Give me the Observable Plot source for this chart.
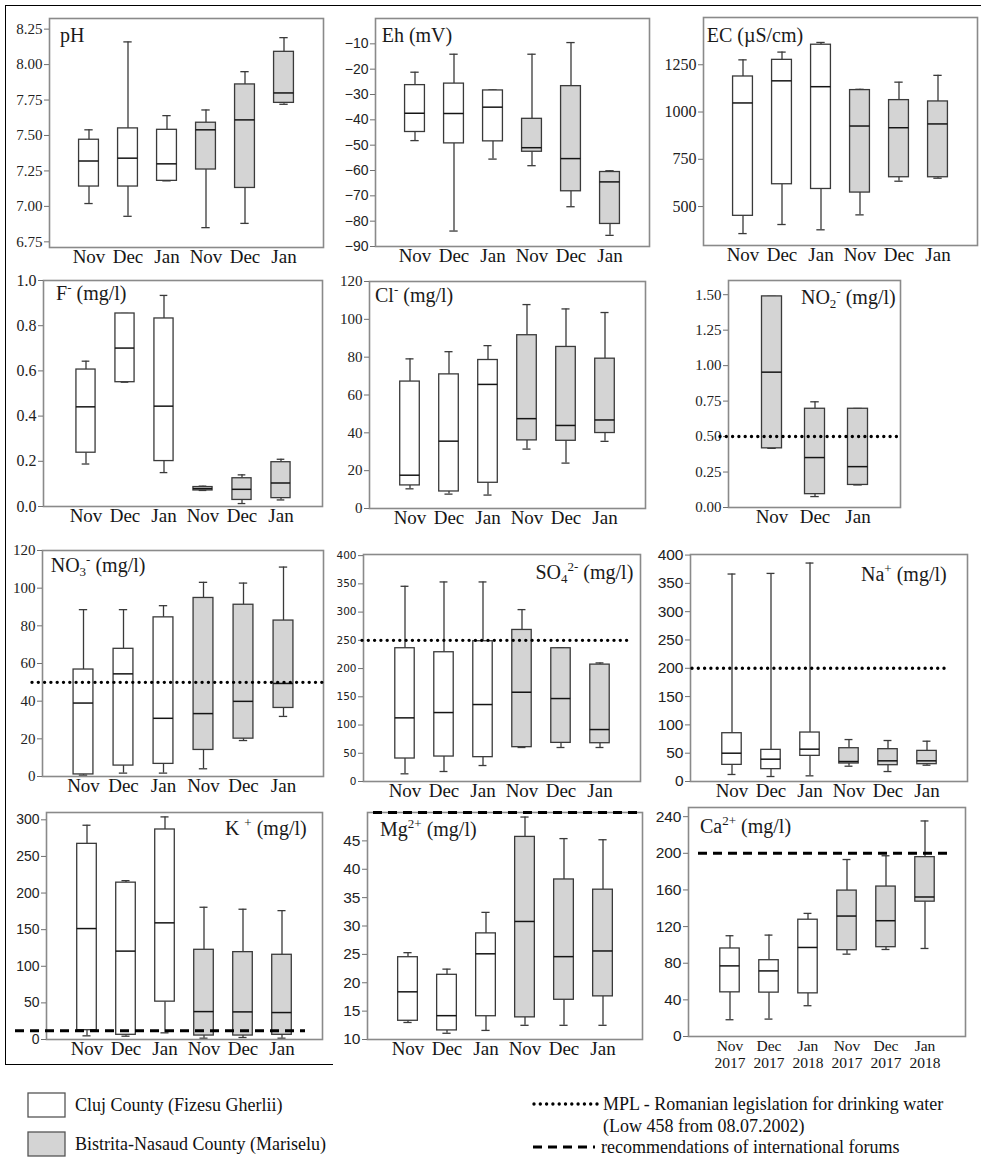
<!DOCTYPE html>
<html><head><meta charset="utf-8">
<script src="https://cdn.jsdelivr.net/npm/d3@7"></script>
<script src="https://cdn.jsdelivr.net/npm/@observablehq/plot@0.6"></script>
<style>
body{margin:0;background:#fff;}
#page{position:relative;width:981px;height:1160px;overflow:hidden;background:#fff;}
#border{position:absolute;left:5px;top:5px;width:1010px;height:1060px;border-top:1.5px solid #000;border-left:1.5px solid #000;box-sizing:border-box;}
#border2{position:absolute;left:5px;top:1063.5px;width:328px;height:1.5px;background:#000;}
</style></head><body><div id="page"><div id="border"></div><div id="border2"></div></div>
<script>
// categories
const months = ["Nov","Dec","Jan"];
const groups = ["Cluj","Bistrita"];
const caLabels = {Nov:"Nov\n2017", Dec:"Dec\n2017", Jan:"Jan\n2018"};
// five-number summaries [min, q1, median, q3, max]; rows: Cluj Nov, Dec, Jan, Bistrita Nov, Dec, Jan
const pH = [[7.02,7.14,7.32,7.47,7.54],[6.93,7.14,7.34,7.55,8.16],[7.18,7.18,7.30,7.54,7.64],
            [6.85,7.26,7.54,7.59,7.68],[6.88,7.13,7.61,7.86,7.95],[7.72,7.73,7.80,8.09,8.19]];
const Eh = [[-48.2,-44.8,-37.4,-26.3,-21.2],[-83.9,-49.3,-37.5,-25.7,-14.1],[-55.5,-48.5,-35.0,-28.4,-28.2],
            [-58.1,-52.6,-51.0,-39.6,-14.1],[-74.3,-68.2,-55.3,-26.7,-9.5],[-85.6,-81.1,-64.5,-60.6,-60.1]];
const EC = [[357,451,1048,1188,1276],[405,618,1165,1276,1317],[377,593,1134,1356,1368],
            [456,574,926,1116,1120],[634,655,917,1063,1158],[650,655,937,1056,1194]];
const F  = [[0.188,0.238,0.441,0.606,0.643],[0.55,0.55,0.701,0.854,0.854],[0.15,0.201,0.444,0.832,0.934],
            [0.071,0.071,0.079,0.086,0.09],[0.013,0.029,0.076,0.125,0.14],[0.029,0.037,0.104,0.196,0.209]];
const Cl = [[10.4,12.2,17.6,67.1,79.1],[7.6,9.0,35.6,70.9,82.9],[7.1,13.6,65.6,78.5,86.1],
            [31.4,36.0,47.5,91.6,107.8],[24.0,35.8,43.9,85.4,105.5],[35.5,39.9,46.8,79.2,103.6]];
const NO2 = [[0.417,0.417,0.954,1.488,1.488],[0.077,0.094,0.352,0.696,0.745],[0.159,0.159,0.288,0.696,0.698]];
const NO3 = [[0.7,1.1,39.0,56.8,88.6],[1.8,5.8,54.5,67.8,88.6],[1.8,6.7,30.9,84.5,90.7],
             [4.1,14.1,33.4,94.8,103.1],[19.1,20.1,39.9,91.2,102.7],[31.9,36.4,49.4,82.8,111.2]];
const SO4 = [[13.6,40.7,112.7,236,345.7],[17.7,44.2,122.1,228.9,353.4],[28.3,43.1,136.3,248.4,353.4],
             [60.2,60.8,158.1,268.4,304.4],[60.2,68.4,146.9,236,236.6],[60.2,67.8,92,207,210]];
const Na = [[12.4,29.4,50,85.3,366.5],[8.8,21.8,39.4,55.9,367.6],[10,45.3,57.1,86.5,385.9],
            [27,31.8,35.3,58.8,74.1],[17.6,28.8,36.5,57.1,72.4],[28.8,30.6,36.5,54.1,71.2]];
const K  = [[5.0,12.7,151.5,267.2,292.6],[4.5,6.4,120.7,214.2,216.9],[9.1,51.7,159.3,286.8,304],
            [1.8,5.4,38.1,122.5,180.6],[2.7,5.4,37.7,119.3,177.9],[1.8,6.4,36.8,115.7,176]];
const Mg = [[13.0,13.3,18.4,24.5,25.3],[11.1,11.6,14.2,21.4,22.4],[11.6,14.1,25.1,28.7,32.4],
            [12.5,13.9,30.8,45.7,49.2],[12.5,17.0,24.6,38.2,45.4],[12.5,17.6,25.6,36.4,45.2]];
const Ca = [[18.3,48.2,77.1,96.1,110],[19.0,47.9,71.6,83.3,110.7],[33.6,47.1,97.2,127.5,134.4],
            [89.9,94.2,131.5,159.3,193.2],[95,97.5,126.4,163.7,197.3],[96.1,147.2,152.3,195.8,235.3]];
// limits
const mplLimits = {NO2: 0.5, NO3: 50, SO4: 250, Na: 200};
const intlLimits = {K: 12, Mg: 50, Ca: 200};
// tick labels
const pHTicks = [6.75,7.00,7.25,7.50,7.75,8.00,8.25];
const EhTicks = [-90,-80,-70,-60,-50,-40,-30,-20,-10];
const ECTicks = [500,750,1000,1250];
const FTicks = [0,0.2,0.4,0.6,0.8,1.0];
const ClTicks = [0,20,40,60,80,100,120];
const NO2Ticks = [0,0.25,0.5,0.75,1.0,1.25,1.5];
const NO3Ticks = [0,20,40,60,80,100,120];
const SO4Ticks = [0,50,100,150,200,250,300,350,400];
const NaTicks = [0,50,100,150,200,250,300,350,400];
const KTicks = [0,50,100,150,200,250,300];
const MgTicks = [10,15,20,25,30,35,40,45];
const CaTicks = [0,40,80,120,160,200,240];

const SERIF = "'Liberation Serif', serif", SANS = "'Liberation Sans', sans-serif";
const f2 = d3.format(".2f"), f1 = d3.format(".1f"), f0 = d3.format("d");

const panels = [
  {values:pH, groups, frame:[49,18,323,247], domain:[6.71,8.325], ticks:pHTicks, fmt:f2, font:SERIF, fs:15,
   title:[["pH"]], tpos:[60,41.7,"start"]},
  {values:Eh, groups, frame:[375,18,649,246], domain:[-90,0], ticks:EhTicks, fmt:f0, font:SANS, fs:14,
   title:[["Eh (mV)"]], tpos:[381.7,41.7,"start"]},
  {values:EC, groups, frame:[703,17,977,245], domain:[294,1500], ticks:ECTicks, fmt:f0, font:SERIF, fs:16,
   title:[["EC (µS/cm)"]], tpos:[706.7,41.7,"start"]},
  {values:F, groups, frame:[43,280,322,506], domain:[0,1], ticks:FTicks, fmt:f1, font:SERIF, fs:16,
   title:[["F"],["-","sup"],[" (mg/l)"]], tpos:[56,300.3,"start"]},
  {values:Cl, groups, frame:[369,281,645,508], domain:[0,120], ticks:ClTicks, fmt:f0, font:SERIF, fs:15,
   title:[["Cl"],["-","sup"],[" (mg/l)"]], tpos:[375,302,"start"]},
  {values:NO2, groups:["Bistrita"], frame:[728,280,900,507], domain:[0,1.6], ticks:NO2Ticks, fmt:f2, font:SERIF, fs:15,
   title:[["NO"],["2","sub"],["-","sup"],[" (mg/l)"]], tpos:[895.7,304,"end"],
   ref:{value:mplLimits.NO2, kind:"dot", il:-8, ir:0}},
  {values:NO3, groups, frame:[42,550,323,776], domain:[0,120], ticks:NO3Ticks, fmt:f0, font:SERIF, fs:15,
   title:[["NO"],["3","sub"],["-","sup"],[" (mg/l)"]], tpos:[50.7,572.3,"start"],
   ref:{value:mplLimits.NO3, kind:"dot", il:-10, ir:-1}},
  {values:SO4, groups, frame:[363,554,640,781], domain:[0,402], ticks:SO4Ticks, fmt:f0, font:"'DejaVu Sans', sans-serif", fs:10.5,
   title:[["SO"],["4","sub"],["2-","sup"],[" (mg/l)"]], tpos:[633.3,578.7,"end"],
   ref:{value:mplLimits.SO4, kind:"dot", il:-1, ir:8}},
  {values:Na, groups, frame:[690,554,967,781], domain:[0,401], ticks:NaTicks, fmt:f0, font:SANS, fs:15.5,
   title:[["Na"],["+","sup"],[" (mg/l)"]], tpos:[946.7,580.7,"end"],
   ref:{value:mplLimits.Na, kind:"dot", il:2, ir:20}},
  {values:K, groups, frame:[46,812,322,1039], domain:[0,310], ticks:KTicks, fmt:f0, font:SANS, fs:14,
   title:[["K "],["+","sup"],[" (mg/l)"]], tpos:[306.7,835,"end"],
   ref:{value:intlLimits.K, kind:"dash", il:-31, ir:17}},
  {values:Mg, groups, frame:[367,812,642,1039], domain:[10,50], ticks:MgTicks, fmt:f0, font:SANS, fs:15.5,
   title:[["Mg"],["2+","sup"],[" (mg/l)"]], tpos:[380,836,"start"],
   ref:{value:intlLimits.Mg, kind:"dash", il:6, ir:0}},
  {values:Ca, groups, frame:[688,807,965,1036], domain:[0,250], ticks:CaTicks, fmt:f0, font:SANS, fs:15.5,
   title:[["Ca"],["2+","sup"],[" (mg/l)"]], tpos:[700,833.3,"start"],
   ref:{value:intlLimits.Ca, kind:"dash", il:10, ir:12}, xlabels:caLabels, xfs:15.5, xlh:1.13}
];

function rowsFor(values, grpList) {
  const rows = []; let i = 0;
  for (const g of grpList) for (const m of months) {
    const [min,q1,med,q3,max] = values[i++];
    rows.push({key: g + "|" + m, group: g, month: m, min, q1, med, q3, max});
  }
  return rows;
}

function addTitle(svg, parts, x, y, anchor) {
  const t = d3.select(svg).append("text").attr("x", x).attr("y", y).attr("text-anchor", anchor)
    .style("font-family", SERIF).attr("font-size", 20).attr("fill", "#1a1a1a");
  let off = 0;
  for (const [s, kind] of parts) {
    const target = kind === "sup" ? -8 : kind === "sub" ? 4 : 0;
    t.append("tspan").attr("dy", target - off).attr("font-size", kind ? 13 : 20).text(s);
    off = target;
  }
}

function setFont(svg, label, family, size) {
  const g = d3.select(svg).selectAll(`g[aria-label="${label}"]`);
  g.style("font-family", family, "important").style("font-size", size + "px", "important");
  g.selectAll("text, tspan").style("font-family", family, "important").style("font-size", size + "px", "important");
}

const page = document.getElementById("page");
const BOX = "#3a3a3a";
for (const p of panels) {
  const [l, t, r, b] = p.frame;
  const mL = 50, mR = 24, mT = 6, mB = p.xlabels ? 46 : 34;
  const W = r - l, H = b - t;
  const rows = rowsFor(p.values, p.groups);
  const step = W / (rows.length + 1);
  const boxIn = (step - 20) / 2, capIn = (step - 8.5) / 2;
  const marks = [
    Plot.ruleX(rows, {x: "key", y1: "min", y2: "q1", stroke: BOX, strokeWidth: 1.3}),
    Plot.ruleX(rows, {x: "key", y1: "q3", y2: "max", stroke: BOX, strokeWidth: 1.3}),
    Plot.tickY(rows, {x: "key", y: "min", stroke: BOX, strokeWidth: 1.3, insetLeft: capIn, insetRight: capIn}),
    Plot.tickY(rows, {x: "key", y: "max", stroke: BOX, strokeWidth: 1.3, insetLeft: capIn, insetRight: capIn}),
    Plot.barY(rows.filter(d => d.group === "Cluj"), {x: "key", y1: "q1", y2: "q3", fill: "#ffffff", stroke: BOX, strokeWidth: 1.3, insetLeft: boxIn, insetRight: boxIn}),
    Plot.barY(rows.filter(d => d.group === "Bistrita"), {x: "key", y1: "q1", y2: "q3", fill: "#d4d4d4", stroke: BOX, strokeWidth: 1.3, insetLeft: boxIn, insetRight: boxIn}),
    Plot.tickY(rows, {x: "key", y: "med", stroke: "#151515", strokeWidth: 1.5, insetLeft: boxIn, insetRight: boxIn}),
    Plot.frame({stroke: "#8a8a8a", strokeWidth: 1.6}),
    Plot.axisY({ticks: p.ticks, tickFormat: p.fmt, tickSize: 5, tickPadding: 2, label: null,
      stroke: "#707070", fill: "#222", fontFamily: p.font, fontSize: p.fs}),
    Plot.axisX({tickSize: 0, tickPadding: 2, label: null,
      tickFormat: k => { const m = k.split("|")[1]; return p.xlabels ? p.xlabels[m] : m; },
      fill: "#151515", fontFamily: SERIF, fontSize: p.xfs || 19, lineHeight: p.xlh || 1})
  ];
  if (p.ref) {
    const dot = p.ref.kind === "dot";
    marks.push(Plot.ruleY([p.ref.value], {stroke: "#000", strokeWidth: dot ? 3.4 : 3,
      strokeDasharray: dot ? "0,6.3" : "9,6", strokeLinecap: dot ? "round" : "butt",
      insetLeft: p.ref.il, insetRight: p.ref.ir}));
  }
  const svg = Plot.plot({
    width: W + mL + mR, height: H + mT + mB,
    marginLeft: mL, marginRight: mR, marginTop: mT, marginBottom: mB,
    x: {type: "band", domain: rows.map(d => d.key), paddingInner: 0, paddingOuter: 0.5},
    y: {domain: p.domain},
    style: {background: "transparent", overflow: "visible"},
    marks
  });
  setFont(svg, "y-axis tick label", p.font, p.fs);
  setFont(svg, "x-axis tick label", SERIF, p.xfs || 19);
  addTitle(svg, p.title, p.tpos[0] - (l - mL), p.tpos[1] - (t - mT), p.tpos[2]);
  svg.style.position = "absolute";
  svg.style.left = (l - mL) + "px";
  svg.style.top = (t - mT) + "px";
  svg.style.maxWidth = "none";
  page.appendChild(svg);
}

// legend
const leg = d3.select(page).append("svg").attr("width", 981).attr("height", 94)
  .style("position", "absolute").style("left", "0px").style("top", "1066px")
  .style("font-family", SERIF).attr("font-size", 18).attr("fill", "#111");
leg.append("rect").attr("x", 28).attr("y", 27).attr("width", 37).attr("height", 24).attr("fill", "#fff").attr("stroke", "#555").attr("stroke-width", 1.3);
leg.append("text").attr("x", 75).attr("y", 45).text("Cluj County (Fizesu Gherlii)");
leg.append("rect").attr("x", 28).attr("y", 66).attr("width", 37).attr("height", 24).attr("fill", "#d4d4d4").attr("stroke", "#555").attr("stroke-width", 1.3);
leg.append("text").attr("x", 75).attr("y", 84).text("Bistrita-Nasaud County (Mariselu)");
leg.append("line").attr("x1", 534).attr("x2", 598).attr("y1", 38).attr("y2", 38).attr("stroke", "#000").attr("stroke-width", 3.4).attr("stroke-dasharray", "0,6.3").attr("stroke-linecap", "round");
leg.append("text").attr("x", 603).attr("y", 44).text("MPL - Romanian legislation for drinking water");
leg.append("text").attr("x", 603).attr("y", 66).text("(Low 458 from 08.07.2002)");
leg.append("line").attr("x1", 533).attr("x2", 595).attr("y1", 81).attr("y2", 81).attr("stroke", "#000").attr("stroke-width", 3).attr("stroke-dasharray", "9,6");
leg.append("text").attr("x", 601).attr("y", 87).text("recommendations of international forums");
</script></body></html>
